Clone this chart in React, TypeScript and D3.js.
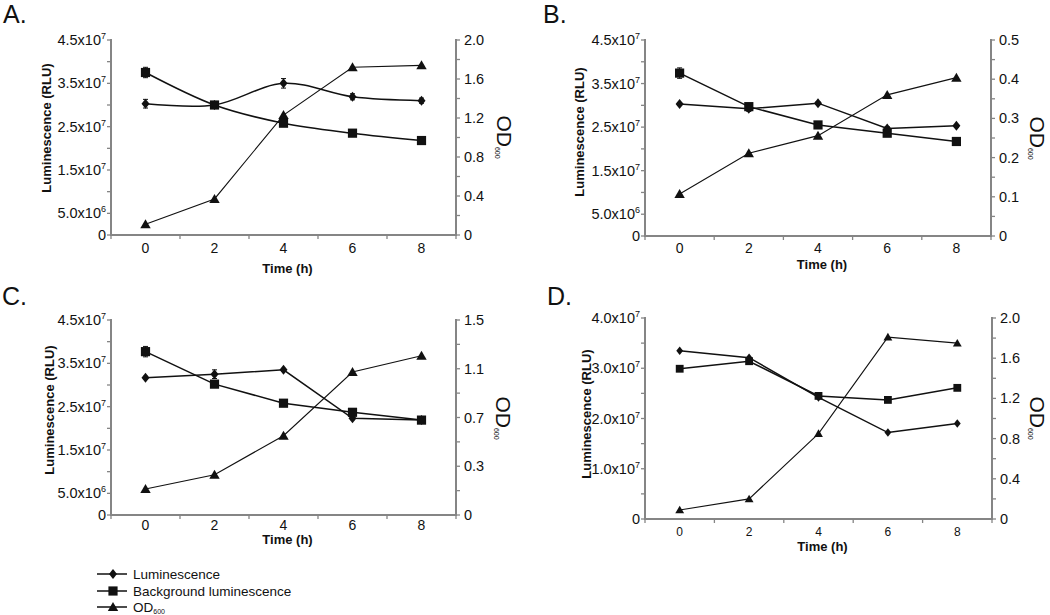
import React from 'react';
import * as d3 from 'd3';

// ---------- data ----------
const times = ['0', '2', '4', '6', '8'];

// Panel A
const lumA = [3.03e7, 3.0e7, 3.5e7, 3.19e7, 3.1e7];
const lumErrA = [1.0e6, 0.4e6, 1.1e6, 0.7e6, 0.6e6];
const bgA = [3.75e7, 3.0e7, 2.58e7, 2.35e7, 2.18e7];
const bgErrA = [1.2e6, 0.3e6, 0.5e6, 0.3e6, 0.3e6];
const odA = [0.11, 0.37, 1.23, 1.72, 1.74];

// Panel B
const lumB = [3.03e7, 2.92e7, 3.05e7, 2.47e7, 2.53e7];
const lumErrB = [0.3e6, 0.6e6, 0.3e6, 0.4e6, 0.3e6];
const bgB = [3.74e7, 2.97e7, 2.55e7, 2.36e7, 2.17e7];
const bgErrB = [1.2e6, 0.4e6, 0.3e6, 0.3e6, 0.3e6];
const odB = [0.107, 0.211, 0.256, 0.36, 0.404];

// Panel C
const lumC = [3.17e7, 3.25e7, 3.35e7, 2.23e7, 2.19e7];
const lumErrC = [0.3e6, 1.0e6, 0.3e6, 0.3e6, 0.3e6];
const bgC = [3.77e7, 3.02e7, 2.58e7, 2.37e7, 2.19e7];
const bgErrC = [1.2e6, 0.3e6, 0.3e6, 0.3e6, 0.3e6];
const odC = [0.2, 0.31, 0.61, 1.1, 1.225];

// Panel D
const lumD = [3.35e7, 3.21e7, 2.42e7, 1.72e7, 1.9e7];
const lumErrD = [0, 0, 0, 0, 0];
const bgD = [2.99e7, 3.14e7, 2.45e7, 2.37e7, 2.61e7];
const bgErrD = [0, 0, 0, 0, 0];
const odD = [0.09, 0.2, 0.85, 1.81, 1.75];

// Left axis ticks
const leftTicks45 = [0, 5e6, 1e7, 1.5e7, 2e7, 2.5e7, 3e7, 3.5e7, 4e7, 4.5e7];
const leftLabels45 = [
  { v: 0, m: '0', e: '' },
  { v: 5e6, m: '5.0x10', e: '6' },
  { v: 1.5e7, m: '1.5x10', e: '7' },
  { v: 2.5e7, m: '2.5x10', e: '7' },
  { v: 3.5e7, m: '3.5x10', e: '7' },
  { v: 4.5e7, m: '4.5x10', e: '7' },
];
const leftTicks40 = [0, 5e6, 1e7, 1.5e7, 2e7, 2.5e7, 3e7, 3.5e7, 4e7];
const leftLabels40 = [
  { v: 0, m: '0', e: '' },
  { v: 1e7, m: '1.0x10', e: '7' },
  { v: 2e7, m: '2.0x10', e: '7' },
  { v: 3e7, m: '3.0x10', e: '7' },
  { v: 4e7, m: '4.0x10', e: '7' },
];

// Right axis ticks
const rightTicks20 = [0, 0.2, 0.4, 0.6, 0.8, 1.0, 1.2, 1.4, 1.6, 1.8, 2.0];
const rightLabels20 = [
  { v: 0, t: '0' }, { v: 0.4, t: '0.4' }, { v: 0.8, t: '0.8' },
  { v: 1.2, t: '1.2' }, { v: 1.6, t: '1.6' }, { v: 2.0, t: '2.0' },
];
const rightTicks05 = [0, 0.05, 0.1, 0.15, 0.2, 0.25, 0.3, 0.35, 0.4, 0.45, 0.5];
const rightLabels05 = [
  { v: 0, t: '0' }, { v: 0.1, t: '0.1' }, { v: 0.2, t: '0.2' },
  { v: 0.3, t: '0.3' }, { v: 0.4, t: '0.4' }, { v: 0.5, t: '0.5' },
];
const rightTicks15 = [0, 0.1875, 0.375, 0.5625, 0.75, 0.9375, 1.125, 1.3125, 1.5];
const rightLabels15 = [
  { v: 0, t: '0' }, { v: 0.375, t: '0.3' }, { v: 0.75, t: '0.7' },
  { v: 1.125, t: '1.1' }, { v: 1.5, t: '1.5' },
];

const legendItems = ['Luminescence', 'Background luminescence', 'OD'];

// ---------- layout ----------
const FONT = '"Liberation Sans", Arial, Helvetica, sans-serif';
const AXIS = '#858585';
const INK = '#111';

type Panel = {
  letter: string; lx: number; ly: number;
  left: number; right: number; top: number; bottom: number;
  leftMax: number; leftTicks: number[]; leftLabels: { v: number; m: string; e: string }[];
  rightMax: number; rightTicks: number[]; rightLabels: { v: number; t: string }[];
  lum: number[]; lumErr: number[]; bg: number[]; bgErr: number[]; od: number[];
  smooth: boolean;
  titleX: number; titleY: number; timeY: number; tickY: number; odX: number; odY: number;
  xFont: number; mk: number;
};

const panels: Panel[] = [
  {
    letter: 'A.', lx: 3, ly: 23, left: 111, right: 456, top: 40, bottom: 235,
    leftMax: 4.5e7, leftTicks: leftTicks45, leftLabels: leftLabels45,
    rightMax: 2.0, rightTicks: rightTicks20, rightLabels: rightLabels20,
    lum: lumA, lumErr: lumErrA, bg: bgA, bgErr: bgErrA, od: odA, smooth: true,
    titleX: 46, titleY: 128, timeY: 273, tickY: 253, odX: 497, odY: 137, xFont: 14, mk: 1,
  },
  {
    letter: 'B.', lx: 543, ly: 23, left: 645, right: 991, top: 40, bottom: 236,
    leftMax: 4.5e7, leftTicks: leftTicks45, leftLabels: leftLabels45,
    rightMax: 0.5, rightTicks: rightTicks05, rightLabels: rightLabels05,
    lum: lumB, lumErr: lumErrB, bg: bgB, bgErr: bgErrB, od: odB, smooth: false,
    titleX: 579, titleY: 132, timeY: 269, tickY: 253, odX: 1030, odY: 138, xFont: 14, mk: 1,
  },
  {
    letter: 'C.', lx: 2, ly: 305, left: 111, right: 456, top: 320, bottom: 515,
    leftMax: 4.5e7, leftTicks: leftTicks45, leftLabels: leftLabels45,
    rightMax: 1.5, rightTicks: rightTicks15, rightLabels: rightLabels15,
    lum: lumC, lumErr: lumErrC, bg: bgC, bgErr: bgErrC, od: odC, smooth: false,
    titleX: 49, titleY: 410, timeY: 544, tickY: 530, odX: 496, odY: 418, xFont: 14, mk: 1,
  },
  {
    letter: 'D.', lx: 547, ly: 305, left: 645, right: 992, top: 318, bottom: 519,
    leftMax: 4.0e7, leftTicks: leftTicks40, leftLabels: leftLabels40,
    rightMax: 2.0, rightTicks: rightTicks20, rightLabels: rightLabels20,
    lum: lumD, lumErr: lumErrD, bg: bgD, bgErr: bgErrD, od: odD, smooth: false,
    titleX: 586, titleY: 414, timeY: 551, tickY: 536, odX: 1030, odY: 418, xFont: 12, mk: 0.85,
  },
];

const diamond = (s: number) => `M0,${-5 * s}L${4 * s},0L0,${5 * s}L${-4 * s},0Z`;
const square = (s: number) => `M${-4.6 * s},${-4.6 * s}h${9.2 * s}v${9.2 * s}h${-9.2 * s}Z`;
const triangle = (s: number) => `M0,${-5 * s}L${5.2 * s},${4 * s}L${-5.2 * s},${4 * s}Z`;

function ChartPanel({ p }: { p: Panel }) {
  const x = d3.scaleBand<string>().domain(times).range([p.left, p.right]).padding(0);
  const cx = (t: string) => (x(t) as number) + x.bandwidth() / 2;
  const yL = d3.scaleLinear().domain([0, p.leftMax]).range([p.bottom, p.top]);
  const yR = d3.scaleLinear().domain([0, p.rightMax]).range([p.bottom, p.top]);
  const curve = p.smooth ? d3.curveCatmullRom.alpha(0) : d3.curveLinear;

  const lineL = d3.line<number>().x((_, i) => cx(times[i])).y((v) => yL(v)).curve(curve);
  const lineR = d3.line<number>().x((_, i) => cx(times[i])).y((v) => yR(v)).curve(d3.curveLinear);

  const xTickPos = [...times.map((t) => x(t) as number), p.right];

  const errBars = (vals: number[], errs: number[], key: string) =>
    vals.map((v, i) =>
      errs[i] > 0 ? (
        <g key={key + i} stroke={INK} strokeWidth={1}>
          <line x1={cx(times[i])} x2={cx(times[i])} y1={yL(v - errs[i])} y2={yL(v + errs[i])} />
          <line x1={cx(times[i]) - 2.5} x2={cx(times[i]) + 2.5} y1={yL(v - errs[i])} y2={yL(v - errs[i])} />
          <line x1={cx(times[i]) - 2.5} x2={cx(times[i]) + 2.5} y1={yL(v + errs[i])} y2={yL(v + errs[i])} />
        </g>
      ) : null
    );

  return (
    <g>
      <text x={p.lx} y={p.ly} fontSize={25} fill={INK} fontFamily={FONT}>{p.letter}</text>

      {/* axes */}
      <g stroke={AXIS} strokeWidth={2} fill="none">
        <line x1={p.left} x2={p.left} y1={p.top - 1} y2={p.bottom + 1} />
        <line x1={p.right} x2={p.right} y1={p.top - 1} y2={p.bottom + 1} />
        <line x1={p.left - 1} x2={p.right + 1} y1={p.bottom} y2={p.bottom} />
      </g>
      <g stroke={AXIS} strokeWidth={1.3}>
        {p.leftTicks.map((v) => (
          <line key={'lt' + v} x1={p.left - 4} x2={p.left} y1={yL(v)} y2={yL(v)} />
        ))}
        {p.rightTicks.map((v) => (
          <line key={'rt' + v} x1={p.right} x2={p.right + 4} y1={yR(v)} y2={yR(v)} />
        ))}
        {xTickPos.map((v, i) => (
          <line key={'xt' + i} x1={v} x2={v} y1={p.bottom} y2={p.bottom + 4} />
        ))}
      </g>

      {/* tick labels */}
      <g fontFamily={FONT} fill={INK}>
        {p.leftLabels.map((l) => (
          <text key={'ll' + l.v} x={p.left - 5} y={yL(l.v) + 5} fontSize={14.5} textAnchor="end">
            {l.m}
            {l.e ? <tspan fontSize={9} dy={-6}>{l.e}</tspan> : null}
          </text>
        ))}
        {p.rightLabels.map((l) => (
          <text key={'rl' + l.v} x={p.right + 8} y={yR(l.v) + 5} fontSize={14.5} textAnchor="start">
            {l.t}
          </text>
        ))}
        {times.map((t) => (
          <text key={'xl' + t} x={cx(t)} y={p.tickY} fontSize={p.xFont} textAnchor="middle">{t}</text>
        ))}
      </g>

      {/* axis titles */}
      <text
        transform={`translate(${p.titleX + 5},${p.titleY}) rotate(-90)`}
        textAnchor="middle" fontFamily={FONT} fontWeight="bold" fontSize={13} fill={INK}
      >
        Luminescence (RLU)
      </text>
      <text
        x={(p.left + p.right) / 2 + 4} y={p.timeY} textAnchor="middle"
        fontFamily={FONT} fontWeight="bold" fontSize={13} fill={INK}
      >
        Time (h)
      </text>
      <text
        transform={`translate(${p.odX},${p.odY}) rotate(90)`}
        textAnchor="middle" fontFamily={FONT} fontSize={21} fill={INK}
      >
        OD<tspan fontSize={7} dy={2}>600</tspan>
      </text>

      {/* series lines */}
      <path d={lineR(p.od) || ''} fill="none" stroke={INK} strokeWidth={1.1} />
      <path d={lineL(p.bg) || ''} fill="none" stroke={INK} strokeWidth={1.5} />
      <path d={lineL(p.lum) || ''} fill="none" stroke={INK} strokeWidth={1.5} />

      {errBars(p.lum, p.lumErr, 'el')}
      {errBars(p.bg, p.bgErr, 'eb')}

      {/* markers */}
      {p.od.map((v, i) => (
        <path key={'mo' + i} d={triangle(p.mk)} transform={`translate(${cx(times[i])},${yR(v)})`} fill={INK} />
      ))}
      {p.bg.map((v, i) => (
        <path key={'mb' + i} d={square(p.mk)} transform={`translate(${cx(times[i])},${yL(v)})`} fill={INK} />
      ))}
      {p.lum.map((v, i) => (
        <path key={'ml' + i} d={diamond(p.mk)} transform={`translate(${cx(times[i])},${yL(v)})`} fill={INK} />
      ))}
    </g>
  );
}

function Legend() {
  const rows = [574, 591, 607];
  const shapes = [diamond(1), square(1), triangle(1)];
  return (
    <g fontFamily={FONT} fill={INK}>
      {legendItems.map((name, i) => (
        <g key={name}>
          <line x1={97} x2={127} y1={rows[i]} y2={rows[i]} stroke={INK} strokeWidth={1.5} />
          <path d={shapes[i]} transform={`translate(${113},${rows[i]})`} fill={INK} />
          <text x={133} y={rows[i] + 5} fontSize={13.5}>
            {name}
            {i === 2 ? <tspan fontSize={7} dy={2}>600</tspan> : null}
          </text>
        </g>
      ))}
    </g>
  );
}

export default function App() {
  return (
    <svg
      width={1050}
      height={615}
      viewBox="0 0 1050 615"
      style={{ position: 'absolute', left: 0, top: 0, background: '#fff' }}
    >
      <rect x={0} y={0} width={1050} height={615} fill="#fff" />
      {panels.map((p) => (
        <ChartPanel key={p.letter} p={p} />
      ))}
      <Legend />
    </svg>
  );
}
